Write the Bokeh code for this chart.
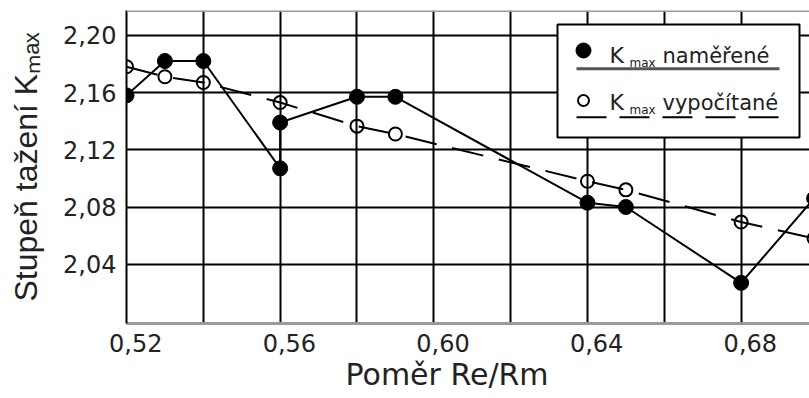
from bokeh.plotting import figure
from bokeh.models import (Range1d, LinearAxis, Grid, FixedTicker,
                          CustomJSTickFormatter, Label, Span, Title)
from bokeh.embed import file_html
from bokeh.resources import INLINE

# ---------------- data ----------------
x_meas = [0.52, 0.53, 0.54, 0.56, 0.56, 0.58, 0.59, 0.64, 0.65, 0.68, 0.699]
y_meas = [2.158, 2.182, 2.182, 2.107, 2.139, 2.157, 2.157, 2.083, 2.080, 2.027, 2.086]

x_calc = [0.52, 0.53, 0.54, 0.56, 0.58, 0.59, 0.64, 0.65, 0.68, 0.699]
y_calc = [2.178, 2.171, 2.167, 2.153, 2.1365, 2.131, 2.098, 2.092, 2.0695, 2.058]

x_ticks = [0.52, 0.56, 0.60, 0.64, 0.68]
x_grid = [0.52, 0.54, 0.56, 0.58, 0.60, 0.62, 0.64, 0.66, 0.68]
y_ticks = [2.04, 2.08, 2.12, 2.16, 2.20]

x_title = "Poměr Re/Rm"
y_title = "Stupeň tažení Kₘₐₓ"
sub_txt = "max"
leg_main = "K"
leg_labels = ["naměřené", "vypočítané"]

# ---------------- layout ----------------
W, H = 809, 398
BL, BR, BT, BB = 126, 0, 10, 75
FW, FH = W - BL - BR, H - BT - BB
X0, X1 = 0.52, 0.6978
Y0, Y1 = 1.9986, 2.2173
LAB_SHIFT = 0.0024

FONT = "DejaVu Sans"
FONT2 = "Liberation Sans"
TXT = "#222222"

p = figure(width=W, height=H, output_backend="svg", toolbar_location=None,
           x_range=Range1d(X0, X1), y_range=Range1d(Y0, Y1),
           x_axis_location=None, y_axis_location=None,
           min_border_left=BL, min_border_right=BR,
           min_border_top=BT, min_border_bottom=BB)
p.grid.visible = False          # drop the automatic grids
p.outline_line_color = None
p.background_fill_color = "white"
p.border_fill_color = "white"
p.extra_x_ranges = {"px": Range1d(0, FW), "xlab": Range1d(X0 - LAB_SHIFT, X1 - LAB_SHIFT)}
p.extra_y_ranges = {"px": Range1d(0, FH)}

p.add_layout(Grid(dimension=0, ticker=FixedTicker(ticks=x_grid),
                  grid_line_color="black", grid_line_width=2))
p.add_layout(Grid(dimension=1, ticker=FixedTicker(ticks=y_ticks),
                  grid_line_color="black", grid_line_width=2))

fmt = CustomJSTickFormatter(code="return tick.toFixed(2).replace('.', ',');")

xax = LinearAxis(x_range_name="xlab", ticker=FixedTicker(ticks=x_ticks), formatter=fmt,
                 axis_line_color="#999999", axis_line_width=3,
                 major_tick_line_color=None, minor_tick_line_color=None,
                 major_tick_out=0, major_tick_in=0, minor_tick_out=0, minor_tick_in=0,
                 major_label_standoff=10, major_label_text_font=FONT,
                 major_label_text_font_size="24px", major_label_text_color=TXT)
p.add_layout(xax, "below")

p.add_layout(Title(text=x_title, align="left", offset=219, standoff=0,
                   text_font=FONT, text_font_size="30px", text_font_style="normal",
                   text_color=TXT), "below")

yax = LinearAxis(ticker=FixedTicker(ticks=y_ticks), formatter=fmt,
                 axis_line_color="black", axis_line_width=2,
                 major_tick_line_color=None, minor_tick_line_color=None,
                 major_tick_out=0, major_tick_in=0, minor_tick_out=0, minor_tick_in=0,
                 major_label_standoff=10, major_label_text_font=FONT,
                 major_label_text_font_size="24px", major_label_text_color=TXT,
                 axis_label=y_title, axis_label_standoff=16,
                 axis_label_text_font=FONT2, axis_label_text_font_size="32px",
                 axis_label_text_font_style="normal", axis_label_text_color=TXT)
p.add_layout(yax, "left")

p.add_layout(Span(location=Y1, dimension="width", line_color="#999999", line_width=3))

# ---------------- data series ----------------
p.line(x_meas, y_meas, line_color="black", line_width=2)
p.scatter(x_meas, y_meas, size=15, fill_color="black", line_color="black")
p.line(x_calc, y_calc, line_color="black", line_width=2, line_dash="32 16")
p.scatter(x_calc, y_calc, size=13, fill_color=None, line_color="black", line_width=2)

# ---------------- legend (pixel coords relative to frame) ----------------
p.quad(left=[431], right=[673], bottom=[186], top=[299], fill_color="white",
       line_color="black", line_width=2, x_range_name="px", y_range_name="px")
p.scatter([457], [273], size=15, fill_color="black", line_color="black",
          x_range_name="px", y_range_name="px")
p.line([450, 653], [254.7, 254.7], line_color="#555555", line_width=3,
       x_range_name="px", y_range_name="px")
p.scatter([457], [223], size=11, fill_color=None, line_color="black", line_width=2,
          x_range_name="px", y_range_name="px")
p.line([450, 653], [206.3, 206.3], line_color="black", line_width=2, line_dash="30 13",
       x_range_name="px", y_range_name="px")

for base_y, lab in zip([268, 221], leg_labels):
    p.add_layout(Label(x=483, y=base_y, x_range_name="px", y_range_name="px", text=leg_main,
                       text_font=FONT, text_font_size="22px", text_color=TXT,
                       text_align="left", text_baseline="alphabetic"))
    p.add_layout(Label(x=503, y=base_y - 7, x_range_name="px", y_range_name="px", text=sub_txt,
                       text_font=FONT, text_font_size="12px", text_color=TXT,
                       text_align="left", text_baseline="alphabetic"))
    p.add_layout(Label(x=536, y=base_y, x_range_name="px", y_range_name="px", text=lab,
                       text_font=FONT, text_font_size="21px", text_color=TXT,
                       text_align="left", text_baseline="alphabetic"))

open("out.html", "w").write(file_html(p, INLINE))
